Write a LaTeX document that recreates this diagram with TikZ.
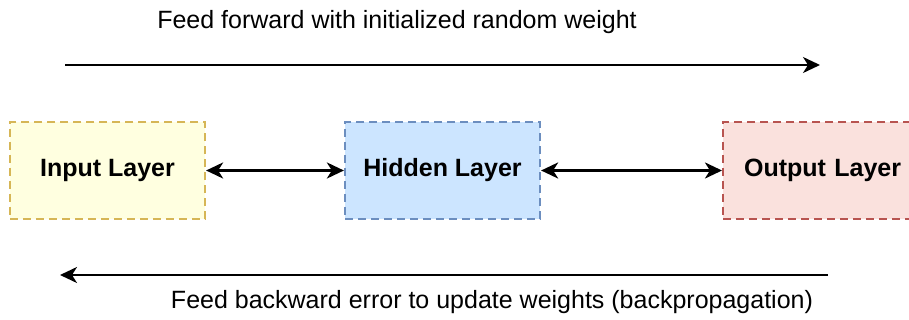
\documentclass[tikz,border=0pt]{standalone}
\usepackage{fontspec}
\setmainfont{Liberation Sans}
\usetikzlibrary{arrows.meta}
\definecolor{yfill}{HTML}{FFFFE0}
\definecolor{ydraw}{HTML}{D6B656}
\definecolor{bfill}{HTML}{CCE5FF}
\definecolor{bdraw}{HTML}{6C8EBF}
\definecolor{rfill}{HTML}{FAE1DD}
\definecolor{rdraw}{HTML}{B85450}
\tikzset{
  layerbox/.style={draw, line width=2.2pt, dash pattern=on 8pt off 5pt, minimum width=195pt, minimum height=97pt, inner sep=0pt, font=\fontsize{25}{30}\selectfont\bfseries},
  longarrow/.style={line width=2pt, -{Stealth[length=17pt,width=16pt,inset=5pt]}},
  dblarrow/.style={line width=2.8pt, {Stealth[length=17pt,width=16pt,inset=5pt]}-{Stealth[length=17pt,width=16pt,inset=5pt]}},
  lbl/.style={font=\fontsize{25}{30}\selectfont, inner sep=0pt}
}
\begin{document}
\begin{tikzpicture}[x=1pt,y=-1pt]
\useasboundingbox (0,0) rectangle (909,320);
\clip (0,0) rectangle (909,320);
\node[layerbox, fill=yfill, draw=ydraw] (in) at (107.5,170.5) {Input Layer};
\node[layerbox, fill=bfill, draw=bdraw] (hid) at (442.5,170.5) {Hidden Layer};
\node[layerbox, fill=rfill, draw=rdraw, anchor=west, text width=195pt, align=left] (out) at (722,170.5) {\hspace*{21pt}Output Layer};
\draw[dblarrow] (in.east) -- (hid.west);
\draw[dblarrow] (hid.east) -- (out.west);
\coordinate (f1) at (65,65);
\coordinate (f2) at (820,65);
\coordinate (b1) at (828,275);
\coordinate (b2) at (60,275);
\draw[longarrow] (f1) -- (f2);
\draw[longarrow] (b1) -- (b2);
\node[lbl] (top) at (397,22) {Feed forward with initialized random weight};
\node[lbl] (bot) at (492,302) {Feed backward error to update weights (backpropagation)};
\end{tikzpicture}
\end{document}
